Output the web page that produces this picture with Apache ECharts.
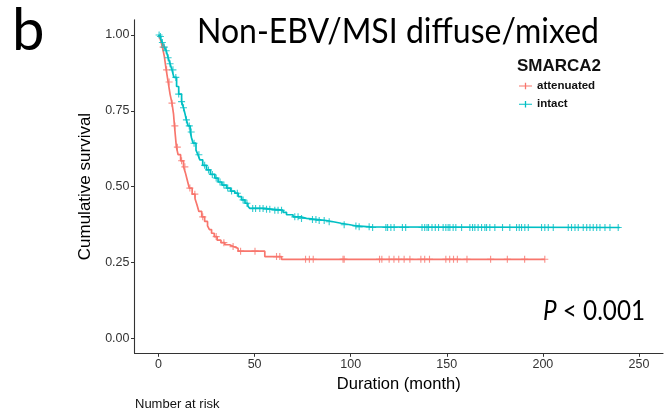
<!DOCTYPE html>
<html>
<head>
<meta charset="utf-8">
<script src="https://cdn.jsdelivr.net/npm/echarts@6/dist/echarts.min.js"></script>
<style>
html,body{margin:0;padding:0;background:#fff;}
#chart{width:670px;height:417px;}
</style>
</head>
<body>
<div id="chart"></div>
<script>
// ---- data ----
const xTicks = [0, 50, 100, 150, 200, 250];
const yTicks = [0, 0.25, 0.5, 0.75, 1];

const attTimes = [0,1,2,3,4,5,6,7,7.8,8.3,8.8,9.3,10.2,11.5,13,14,15,16,17.5,19,20,21,22.5,24,25.5,26.5,27.6,29,30.5,32.5,34.5,37,39,41.4,55.3,64,201];
const attSurv  = [1,0.985,0.96,0.93,0.885,0.845,0.805,0.775,0.74,0.7,0.665,0.63,0.605,0.585,0.565,0.545,0.52,0.495,0.475,0.46,0.44,0.418,0.4,0.385,0.37,0.358,0.346,0.335,0.323,0.315,0.308,0.302,0.296,0.287,0.269,0.26,0.26];
const attCens  = [2.4,4.2,5.5,7,8.5,9.8,12,13.7,16.3,18.9,23,30,34,38.8,42.7,50.2,61.4,63.1,76.5,78.5,80.5,96,96.6,115,116.2,120,122.5,125,127.8,130.8,136.5,138.5,141,149.5,151.5,153.5,155.5,160.5,172.8,181.5,190.5,201];

const intTimes = [0,0.5,1.2,2,3,4,5,6,7,8,9.4,10.5,12,13,13.7,14.5,15.4,16.5,17.2,18,19.5,20.5,21.5,23,25,27,29.3,31,33,35.4,37.5,39.7,41.5,43.2,45,46.5,47.5,55,60,64.8,66.6,70,74,77,83,87.4,90.9,95,99.6,103,110,240];
const intSurv  = [1,0.995,0.985,0.975,0.96,0.948,0.925,0.905,0.885,0.86,0.83,0.805,0.78,0.76,0.742,0.72,0.7,0.68,0.66,0.643,0.62,0.605,0.588,0.57,0.555,0.54,0.528,0.515,0.505,0.495,0.485,0.478,0.467,0.456,0.445,0.435,0.428,0.425,0.422,0.415,0.407,0.4,0.395,0.391,0.388,0.384,0.379,0.374,0.37,0.367,0.365,0.365];
const intCens  = [0.3,1,2,3,4,5,6,7.5,9,10.5,12,13,14.5,16,17,18.5,21,24,26,28,30,32,34,36,38,41,44,46,49,50.5,52.7,54.4,56.2,57.9,60.5,62.2,64,70.9,72.6,74.4,80.1,81.9,83.6,86.2,88.8,96.6,102.7,104.4,109.6,111.4,118.3,119.2,120.9,122.6,126.9,128.6,137.1,138.5,139.7,140.5,142.3,144,145.7,148.1,149.5,150.7,151.6,153.3,154.7,157.7,162,163.4,164.6,166.3,168.1,169.8,170.7,172.4,175,179,182.8,186.3,187.7,188.9,190.6,192.4,199.3,201,202.8,205.4,213.2,214.9,216.7,218.4,221,222.8,224.5,226.2,228,229.7,232.3,234.9,239.2];

const groupNames = ['attenuated', 'intact'];
const colors = ['#F8766D', '#00BFC4'];

// ---- helpers ----
function zip(a, b) { return a.map((v, i) => [v, b[i]]); }
function survAt(times, surv, t) {
  let s = surv[0];
  for (let i = 0; i < times.length; i++) { if (times[i] <= t) s = surv[i]; else break; }
  return s;
}
function censPts(c, times, surv) { return c.map(t => [t, survAt(times, surv, t)]); }
const cv = document.createElement('canvas').getContext('2d');
function textW(text, font) { cv.font = font; return cv.measureText(text).width; }

const plus = 'path://M4.2,0H5.8V4.2H10V5.8H5.8V10H4.2V5.8H0V4.2H4.2Z';
const legIcon = 'path://M0,4.3H9V0H11V4.3H20V5.7H11V10H9V5.7H0Z';

const titleFam = 'Lato, "Open Sans", sans-serif';
const titleText = 'Non-EBV/MSI diffuse/mixed';
const titleSize = 35;
const titleScale = 402 / textW(titleText, titleSize + 'px ' + titleFam);
const pSize = 27;
const pScale = 102 / (textW('P', 'italic ' + pSize + 'px ' + titleFam) + textW(' < 0.001', pSize + 'px ' + titleFam));

const chart = echarts.init(document.getElementById('chart'), null, {renderer: 'canvas'});
const axisFont = '"Liberation Sans", Arial, sans-serif';

chart.setOption({
  animation: false,
  backgroundColor: '#fff',
  grid: {left: 134.5, right: 7, top: 19.8, bottom: 63.7, containLabel: false},
  xAxis: {
    type: 'value', min: -12.5, max: 262.5,
    splitLine: {show: false},
    axisLine: {onZero: false, lineStyle: {color: '#333', width: 1.1}},
    axisTick: {length: 3.5, lineStyle: {color: '#333'}, customValues: xTicks},
    axisLabel: {customValues: xTicks, color: '#333', fontSize: 12.5, fontFamily: axisFont, margin: 5},
    name: 'Duration (month)', nameLocation: 'middle', nameGap: 21,
    nameTextStyle: {fontSize: 16.5, color: '#000', fontFamily: axisFont}
  },
  yAxis: {
    type: 'value', min: -0.05, max: 1.05,
    splitLine: {show: false},
    axisLine: {onZero: false, lineStyle: {color: '#333', width: 1.1}},
    axisTick: {length: 3.5, lineStyle: {color: '#333'}, customValues: yTicks},
    axisLabel: {customValues: yTicks, color: '#333', fontSize: 12.5, fontFamily: axisFont, margin: 5,
      formatter: v => v.toFixed(2)},
    name: 'Cumulative survival', nameLocation: 'middle', nameGap: 33, nameRotate: 90,
    nameTextStyle: {fontSize: 17, color: '#000', fontFamily: axisFont}
  },
  legend: {
    data: groupNames, orient: 'vertical', left: 519, top: 80,
    itemWidth: 13, itemHeight: 8, itemGap: 6.3, icon: legIcon, padding: 0,
    textStyle: {fontSize: 11.5, fontWeight: 'bold', color: '#111', fontFamily: axisFont}
  },
  series: [
    {name: groupNames[0], type: 'line', step: 'end', showSymbol: false, data: zip(attTimes, attSurv),
     lineStyle: {color: colors[0], width: 1.7}, itemStyle: {color: colors[0]}, z: 3},
    {name: groupNames[1], type: 'line', step: 'end', showSymbol: false, data: zip(intTimes, intSurv),
     lineStyle: {color: colors[1], width: 1.7}, itemStyle: {color: colors[1]}, z: 3},
    {name: 'c0', type: 'scatter', symbol: plus, symbolSize: 7, data: censPts(attCens, attTimes, attSurv),
     itemStyle: {color: colors[0]}, z: 4},
    {name: 'c1', type: 'scatter', symbol: plus, symbolSize: 7, data: censPts(intCens, intTimes, intSurv),
     itemStyle: {color: colors[1]}, z: 4}
  ],
  graphic: [
    {type: 'text', left: 12, top: 2, style: {text: 'b', fontSize: 58, fontFamily: titleFam, fill: '#000'}},
    {type: 'text', x: 197, y: 49, scaleX: titleScale, style: {text: titleText, fontSize: titleSize, fontFamily: titleFam,
      fill: '#000', verticalAlign: 'bottom'}},
    {type: 'text', x: 517, y: 66, style: {text: 'SMARCA2', fontSize: 17, fontWeight: 'bold', fontFamily: axisFont,
      fill: '#111', verticalAlign: 'middle'}},
    {type: 'text', x: 645, y: 311, scaleX: pScale, style: {
      text: '{i|P} < 0.001', align: 'right', verticalAlign: 'middle', fontSize: pSize, fontFamily: titleFam, fill: '#000',
      rich: {i: {fontStyle: 'italic', fontSize: pSize, fontFamily: titleFam, fill: '#000'}}}},
    {type: 'text', x: 135, y: 404, style: {text: 'Number at risk', fontSize: 13, fontFamily: axisFont, fill: '#111',
      verticalAlign: 'middle'}}
  ]
});
</script>
</body>
</html>
